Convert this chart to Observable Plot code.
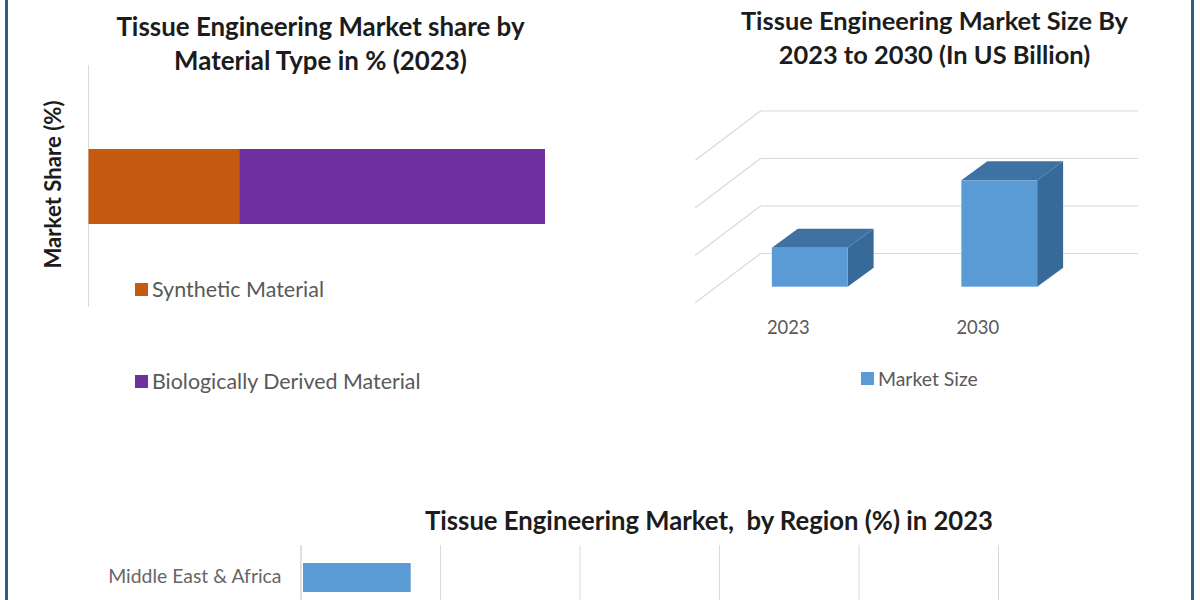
<!DOCTYPE html>
<html><head><meta charset="utf-8">
<script src="https://cdn.jsdelivr.net/npm/d3@7"></script>
<script src="https://cdn.jsdelivr.net/npm/@observablehq/plot@0.6"></script>
<style>
html,body{margin:0;padding:0;background:#fff;}
#page{position:relative;width:1200px;height:600px;overflow:hidden;background:#fff;font-family:Lato,sans-serif;}
#page>svg,#page>.plot{position:absolute;}
.edge{position:absolute;top:0;bottom:0;width:3px;background:#2f5d86;}
.title{position:absolute;font-weight:700;color:#1c1c1c;text-align:center;white-space:nowrap;transform:translateX(-50%);}
.legend{position:absolute;color:#595959;white-space:nowrap;display:flex;align-items:center;}
.legend i{display:inline-block;margin-right:4px;}
</style></head>
<body><div id="page"></div>
<script>
// Left chart: market share by material
const materials = ["Synthetic Material", "Biologically Derived Material"];
const shares = [33, 67];
const materialColors = ["#c55a11", "#7030a0"];
const shareCategory = ["Market Share"];

// Right chart: market size
const years = ["2023", "2030"];
const sizes = [4.1, 11.2];
const sizeTicks = [0, 5, 10, 15];

// Bottom chart: region share (only the first row falls within the picture)
const regions = ["Middle East & Africa"];
const regionShares = [7.9];
const regionTicks = [10, 20, 30, 40, 50];

const page = document.getElementById("page");
const place = (el, left, top) => { el.style.left = left + "px"; el.style.top = top + "px"; page.appendChild(el); };
for (const x of [5, 1191]) { const e = document.createElement("div"); e.className = "edge"; e.style.left = x + "px"; page.appendChild(e); }

function title(lines, cx, cy, size, lh) {
  lines.forEach((t, i) => {
    const d = document.createElement("div");
    d.className = "title"; d.textContent = t;
    d.style.fontSize = size + "px"; d.style.lineHeight = lh + "px"; d.style.whiteSpace = "pre";
    place(d, cx, cy + i * lh - lh / 2);
  });
}
function legend(label, color, left, cy, size, box) {
  const d = document.createElement("div");
  d.className = "legend"; d.style.fontSize = size + "px"; d.style.height = "24px";
  const s = document.createElement("i");
  s.style.width = box + "px"; s.style.height = box + "px"; s.style.background = color;
  d.append(s, document.createTextNode(label));
  place(d, left, cy - 12);
}

title(["Tissue Engineering Market share by", "Material Type in % (2023)"], 320.5, 26, 25.9, 34);
title(["Tissue Engineering Market Size By", "2023 to 2030 (In US Billion)"], 934.5, 20, 25.4, 34);
title(["Tissue Engineering Market,  by Region (%) in 2023"], 709, 520, 25.7, 34);

// ---- left chart
const shareRows = materials.map((m, i) => ({material: m, share: shares[i], cat: shareCategory[0]}));
const left = Plot.plot({
  width: 530, height: 260, marginLeft: 58.5, marginRight: 15, marginTop: 5, marginBottom: 13,
  style: {background: "transparent", overflow: "visible"},
  x: {domain: [0, 100], axis: null},
  y: {domain: shareCategory, padding: 0.527, axis: null},
  color: {domain: materials, range: materialColors},
  marks: [
    Plot.ruleX([0], {stroke: "#d9d9d9", strokeWidth: 1, dx: -0.5}),
    Plot.barX(shareRows, Plot.stackX({x: "share", y: "cat", fill: "material", order: null})),
    Plot.text(["Market Share (%)"], {frameAnchor: "left", textAnchor: "middle", rotate: -90, dx: -35, dy: -2, fontSize: 22.2, fontWeight: 700, fill: "#1c1c1c", fontFamily: "Lato"})
  ]
});
place(left, 30, 60);
legend(materials[0], materialColors[0], 135, 289, 21.5, 13);
legend(materials[1], materialColors[1], 135, 381, 21.4, 13);

// ---- right chart: bars in perspective, all geometry in data units
const wall = {dx: 0.2375, dy: 3.55};     // back wall relative to the bar plane
const front = {dx: -0.105, dy: -1.61};   // front floor edge relative to the bar plane
const depth = {dx: 0.137, dy: 2.0};      // bar depth
const wallEnd = 2.232, halfBar = 0.2;
const sizeRows = years.map((year, i) => ({year, v: sizes[i], x0: i + 0.5 - halfBar, x1: i + 0.5 + halfBar}));
const floorDiag = sizeTicks.flatMap(t => [
  {t, x: front.dx, y: t + front.dy},
  {t, x: wall.dx, y: t + wall.dy}
]);
const sidePts = sizeRows.flatMap(b => [
  {k: b.year, x: b.x1, y1: 0, y2: b.v},
  {k: b.year, x: b.x1 + depth.dx, y1: depth.dy, y2: b.v + depth.dy}
]);
const topPts = sizeRows.flatMap(b => [
  {k: b.year, y: b.v, x1: b.x0, x2: b.x1},
  {k: b.year, y: b.v + depth.dy, x1: b.x0 + depth.dx, x2: b.x1 + depth.dx}
]);
const sizeColor = "#5b9bd5";
const right = Plot.plot({
  width: 480, height: 250, marginLeft: 0, marginRight: 0, marginTop: 0, marginBottom: 30,
  style: {background: "transparent", fontFamily: "Lato"},
  x: {type: "linear", domain: [0, 2], range: [35, 414]},
  y: {domain: [0, 15], range: [196.7, 54.2], axis: null},
  marks: [
    Plot.ruleY(sizeTicks, {y: d => d + wall.dy, x1: wall.dx, x2: wallEnd, stroke: "#d9d9d9", strokeWidth: 1.2}),
    Plot.line(floorDiag, {x: "x", y: "y", z: "t", stroke: "#d9d9d9", strokeWidth: 1.2}),
    Plot.areaY(sidePts, {x: "x", y1: "y1", y2: "y2", z: "k", fill: "#376a98"}),
    Plot.areaX(topPts, {y: "y", x1: "x1", x2: "x2", z: "k", fill: "#3e72a3"}),
    Plot.rect(sizeRows, {x1: "x0", x2: "x1", y1: 0, y2: "v", fill: sizeColor}),
    Plot.axisX({
      ticks: years.map((_, i) => i + 0.5 + front.dx - 0.011),
      tickFormat: (d, i) => years[i],
      tickSize: 0, tickPadding: 10, label: null, fontSize: 18.4, color: "#595959"
    })
  ]
});
place(right, 680, 90);
legend("Market Size", sizeColor, 861, 378, 19.4, 13);

// ---- bottom chart
const regionRows = regions.map((r, i) => ({region: r, share: regionShares[i]}));
const bottom = Plot.plot({
  width: 1200, height: 65, marginLeft: 300, marginRight: 0, marginTop: 10, marginBottom: 0,
  style: {background: "transparent", fontFamily: "Lato"},
  x: {domain: [0, 50], range: [300.5, 998], axis: null},
  y: {domain: regions, range: [10, 75], padding: 0.38, label: null},
  marks: [
    Plot.ruleX(regionTicks, {stroke: "#d9d9d9", strokeWidth: 1}),
    Plot.ruleX([0], {stroke: "#bfbfbf", strokeWidth: 1}),
    Plot.barX(regionRows, {x: "share", y: "region", fill: sizeColor, insetLeft: 2.5}),
    Plot.axisY({tickSize: 0, tickPadding: 19, label: null, fontSize: 19.4, color: "#666", dy: -1})
  ]
});
place(bottom, 0, 535);
</script></body></html>
